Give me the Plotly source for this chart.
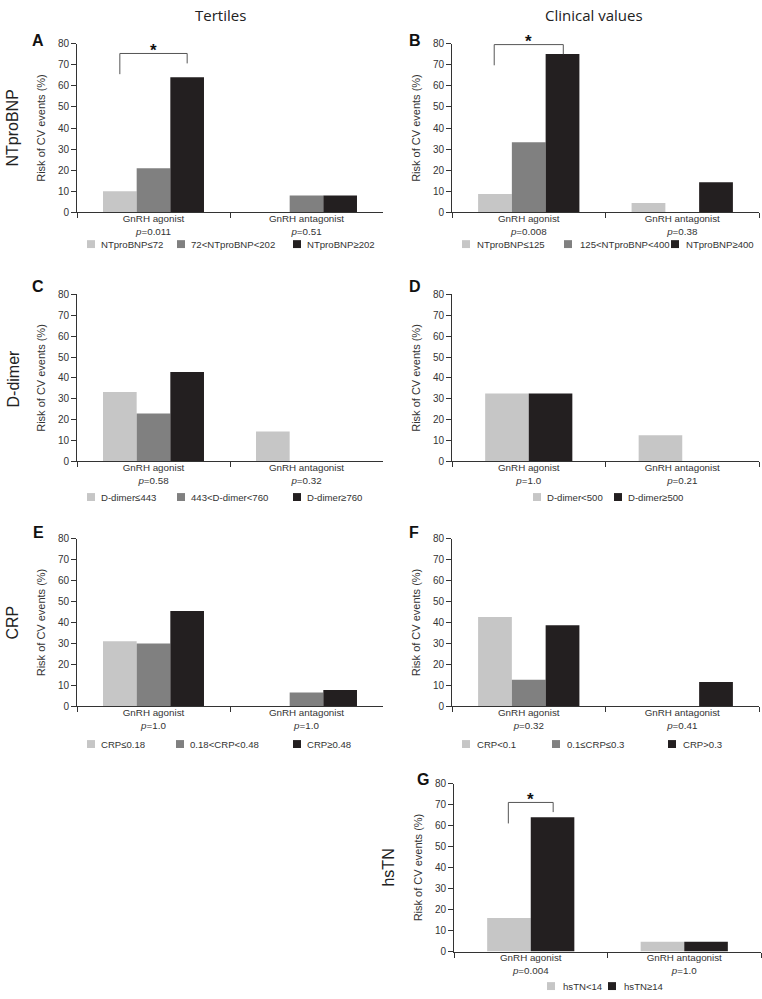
import plotly.graph_objects as go

# ---------------- data ----------------
categories = ["GnRH agonist", "GnRH antagonist"]

# Panel A: NTproBNP tertiles
a_labels = ["NTproBNP≤72", "72<NTproBNP<202", "NTproBNP≥202"]
a_low = [10.0, 0.0]
a_mid = [21.0, 8.0]
a_high = [64.0, 8.0]
a_p = ["0.011", "0.51"]

# Panel B: NTproBNP clinical values
b_labels = ["NTproBNP≤125", "125<NTproBNP<400", "NTproBNP≥400"]
b_low = [8.7, 4.5]
b_mid = [33.3, 0.0]
b_high = [75.0, 14.3]
b_p = ["0.008", "0.38"]

# Panel C: D-dimer tertiles
c_labels = ["D-dimer≤443", "443<D-dimer<760", "D-dimer≥760"]
c_low = [33.3, 14.3]
c_mid = [23.0, 0.0]
c_high = [42.9, 0.0]
c_p = ["0.58", "0.32"]

# Panel D: D-dimer clinical values
d_labels = ["D-dimer<500", "D-dimer≥500"]
d_low = [32.6, 12.6]
d_high = [32.6, 0.0]
d_p = ["1.0", "0.21"]

# Panel E: CRP tertiles
e_labels = ["CRP≤0.18", "0.18<CRP<0.48", "CRP≥0.48"]
e_low = [31.1, 0.0]
e_mid = [30.0, 6.7]
e_high = [45.5, 7.8]
e_p = ["1.0", "1.0"]

# Panel F: CRP clinical values
f_labels = ["CRP<0.1", "0.1≤CRP≤0.3", "CRP>0.3"]
f_low = [42.6, 0.0]
f_mid = [12.7, 0.0]
f_high = [38.7, 11.7]
f_p = ["0.32", "0.41"]

# Panel G: hsTN
g_labels = ["hsTN<14", "hsTN≥14"]
g_low = [16.0, 4.7]
g_high = [64.0, 4.7]
g_p = ["0.004", "1.0"]

# significance brackets: (top, left end, right end) in % units
a_bracket = [75.3, 65.5, 70.6]
b_bracket = [79.5, 69.7, 74.9]
g_bracket = [71.0, 61.0, 66.4]

row_titles = ["NTproBNP", "D-dimer", "CRP", "hsTN"]
col_titles = ["Tertiles", "Clinical values"]
y_title = "Risk of CV events (%)"

# ---------------- styling ----------------
W, H = 762, 999
LIGHT, MID, DARK = "#c6c6c6", "#808080", "#231f20"
FONT = "Liberation Sans, Arial, sans-serif"
TXT = "#333333"


def px_x(p):
    return p / W


def px_y(p):
    return 1 - p / H


# panel geometry in pixels: (x_left, x_right, y_top(80), y_bottom(0))
panels = {
    "A": (77, 383, 38, 209),
    "B": (452, 759, 38, 209),
    "C": (77, 383, 292, 461),
    "D": (452, 759, 292, 461),
    "E": (77, 383, 539, 709),
    "F": (452, 759, 539, 709),
    "G": (454, 761, 787, 957),
}

panel_data = {
    "A": (a_p, [a_low, a_mid, a_high], a_labels),
    "B": (b_p, [b_low, b_mid, b_high], b_labels),
    "C": (c_p, [c_low, c_mid, c_high], c_labels),
    "D": (d_p, [d_low, d_high], d_labels),
    "E": (e_p, [e_low, e_mid, e_high], e_labels),
    "F": (f_p, [f_low, f_mid, f_high], f_labels),
    "G": (g_p, [g_low, g_high], g_labels),
}

fig = go.Figure()
layout = dict(
    width=W, height=H,
    margin=dict(l=0, r=0, t=0, b=0),
    paper_bgcolor="white", plot_bgcolor="white",
    showlegend=False, barmode="overlay",
    font=dict(family=FONT, size=10, color=TXT),
)
shapes = []
annotations = []

for i, key in enumerate(["A", "B", "C", "D", "E", "F", "G"]):
    n = i + 1
    xa = "x" if n == 1 else f"x{n}"
    ya = "y" if n == 1 else f"y{n}"
    xl, xr, yt, yb = panels[key]
    pvals, series, labels = panel_data[key]
    cats = [f"{c}<br><i>p</i>={p}" for c, p in zip(categories, pvals)]
    nser = len(series)
    if nser == 3:
        colors = [LIGHT, MID, DARK]
        width = 0.22
        offsets = [-0.33, -0.11, 0.11]
    else:
        colors = [LIGHT, DARK]
        width = 0.284
        offsets = [-0.284, 0.0]
    for vals, col, off, lab in zip(series, colors, offsets, labels):
        fig.add_trace(go.Bar(
            x=cats, y=vals, name=lab, width=width, offset=off,
            marker=dict(color=col, line=dict(width=0)),
            xaxis=xa, yaxis=ya, showlegend=False,
        ))
    xkey = "xaxis" if n == 1 else f"xaxis{n}"
    ykey = "yaxis" if n == 1 else f"yaxis{n}"
    layout[xkey] = dict(
        domain=[px_x(xl), px_x(xr)], anchor=ya, type="category",
        range=[-0.5, 1.5], showline=True, linecolor="#333", linewidth=1,
        ticks="outside", ticklen=5, tickcolor="#333", tickson="boundaries",
        ticklabelstandoff=-3,
        showgrid=False, zeroline=False, fixedrange=True,
        tickfont=dict(size=9.8, color=TXT, family=FONT),
    )
    layout[ykey] = dict(
        domain=[px_y(yb), px_y(yt)], anchor=xa, range=[0, 80], dtick=10,
        showline=True, linecolor="#333", linewidth=1, ticks="outside",
        ticklen=5, tickcolor="#333", showgrid=False, zeroline=False,
        fixedrange=True, tickfont=dict(size=10, color=TXT, family=FONT),
        title=dict(text=y_title, font=dict(size=11, color=TXT, family=FONT),
                   standoff=10),
    )
    # panel letter
    letter_pos = {"A": (38, 35), "B": (415, 35), "C": (38, 284), "D": (415, 284),
                  "E": (38, 533), "F": (414, 533), "G": (423, 783)}[key]
    annotations.append(dict(
        text=f"<b>{key}</b>", x=px_x(letter_pos[0]), y=px_y(letter_pos[1]),
        xref="paper", yref="paper", showarrow=False, xanchor="center",
        yanchor="middle", font=dict(size=16, color="#111", family=FONT),
    ))

# significance brackets
for n, half, br in [(1, 0.22, a_bracket), (2, 0.225, b_bracket), (7, 0.146, g_bracket)]:
    xa = "x" if n == 1 else f"x{n}"
    ya = "y" if n == 1 else f"y{n}"
    top, lft, rgt = br
    line = dict(color="#555", width=1)
    shapes.append(dict(type="line", xref=xa, yref=ya, x0=-half, x1=-half, y0=lft, y1=top, line=line))
    shapes.append(dict(type="line", xref=xa, yref=ya, x0=-half, x1=half, y0=top, y1=top, line=line))
    shapes.append(dict(type="line", xref=xa, yref=ya, x0=half, x1=half, y0=top, y1=rgt, line=line))
    annotations.append(dict(
        text="<b>*</b>", x=0, y=top, xref=xa, yref=ya, showarrow=False,
        yanchor="middle", yshift=3, font=dict(size=17, color="#111", family=FONT),
    ))

# legends (swatch + text), positions in pixels
legend_rows = {
    "A": (241, [(87, 99), (177, 189), (293, 305)]),
    "B": (241, [(462, 475), (564, 578), (671, 684)]),
    "C": (497, [(87, 99), (177, 189), (293, 305)]),
    "D": (497, [(533, 545), (614, 626)]),
    "E": (747, [(87, 99), (176, 188), (293, 305)]),
    "F": (747, [(462, 475), (552, 565), (668, 681)]),
    "G": (992, [(547, 561), (608, 622)]),
}
for key, (ypix, items) in legend_rows.items():
    _, series, labels = panel_data[key]
    colors = [LIGHT, MID, DARK] if len(series) == 3 else [LIGHT, DARK]
    for (sx, tx), lab, col in zip(items, labels, colors):
        shapes.append(dict(type="rect", xref="paper", yref="paper",
                           x0=px_x(sx), x1=px_x(sx + 8), y0=px_y(ypix + 4), y1=px_y(ypix - 4),
                           fillcolor=col, line=dict(width=0)))
        annotations.append(dict(
            text=lab, x=px_x(tx), y=px_y(ypix), xref="paper", yref="paper",
            showarrow=False, xanchor="left", yanchor="middle",
            font=dict(size=9.6, color=TXT, family=FONT),
        ))

# row titles
for txt, (xp, yp) in zip(row_titles, [(13, 124), (13, 377), (13, 624), (389, 872)]):
    annotations.append(dict(
        text=txt, x=px_x(xp), y=px_y(yp), xref="paper", yref="paper",
        showarrow=False, textangle=-90, xanchor="center", yanchor="middle",
        font=dict(size=16, color="#222", family=FONT),
    ))

# column titles
for txt, xp in zip(col_titles, [220, 594]):
    annotations.append(dict(
        text=txt, x=px_x(xp), y=px_y(9), xref="paper", yref="paper",
        showarrow=False, xanchor="center", yanchor="middle",
        font=dict(size=15, color="#222", family="Open Sans, sans-serif"),
    ))

layout["shapes"] = shapes
layout["annotations"] = annotations
fig.update_layout(**layout)
fig.write_html("out.html", config={"displayModeBar": False},
               post_script="document.body.style.margin='0';")
